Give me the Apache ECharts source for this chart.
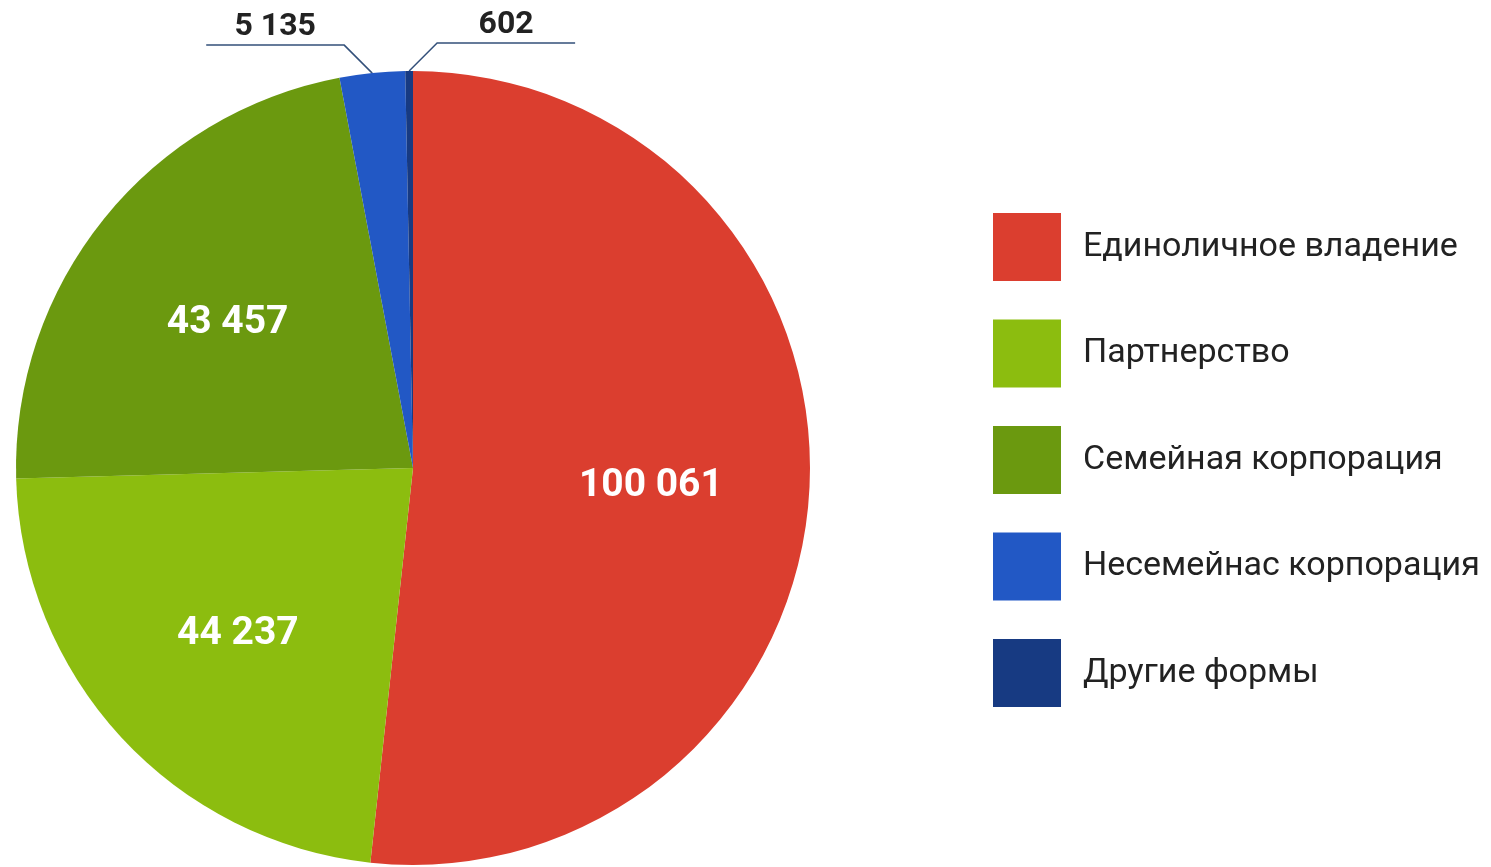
<!DOCTYPE html>
<html>
<head>
<meta charset="utf-8">
<script src="https://cdn.jsdelivr.net/npm/echarts@6/dist/echarts.min.js"></script>
<style>html,body{margin:0;padding:0;background:#fff;}#c{width:1491px;height:867px;}</style>
</head>
<body>
<div id="c"></div>
<script>
const categories = ['Единоличное владение', 'Партнерство', 'Семейная корпорация', 'Несемейнас корпорация', 'Другие формы'];
const values = [100061, 44237, 43457, 5135, 602];
const colors = ['#db3e2f', '#8cbd0f', '#6b990f', '#2258c5', '#173a82'];

const CX = 413, CY = 468, R = 397;
const total = values.reduce((a, b) => a + b, 0);
function fmt(v) { return String(v).replace(/\B(?=(\d{3})+(?!\d))/g, ' '); }
function midAngle(i) {
  let s = 0; for (let k = 0; k < i; k++) s += values[k];
  return (s + values[i] / 2) / total * 2 * Math.PI;
}

const data = categories.map((name, i) => {
  const small = values[i] / total < 0.05;
  return {
    name, value: values[i],
    itemStyle: { color: colors[i] },
    label: small ? {
      position: 'outside', color: '#222', fontSize: 32, fontWeight: 'bold', fontFamily: 'Roboto'
    } : {
      position: 'inside', color: '#fff', fontSize: 39, fontWeight: 'bold', fontFamily: 'Roboto'
    },
    labelLine: { show: small, lineStyle: { color: '#33507a', width: 1.5 } }
  };
});

const chart = echarts.init(document.getElementById('c'), null, { renderer: 'canvas' });
chart.setOption({
  animation: false,
  backgroundColor: '#fff',
  legend: {
    orient: 'vertical', left: 993, top: 213, padding: 0,
    itemWidth: 68, itemHeight: 68, itemGap: 38.5,
    icon: 'rect',
    data: categories,
    textStyle: { fontSize: 34, color: '#222', fontFamily: 'Roboto', padding: [0, 0, 0, 17] }
  },
  series: [{
    type: 'pie',
    center: [CX, CY],
    radius: [0, R],
    startAngle: 90,
    clockwise: true,
    avoidLabelOverlap: false,
    label: { show: true, formatter: p => fmt(p.value) },
    labelLine: { length: 30, length2: 130 },
    labelLayout: function (params) {
      const i = params.dataIndex;
      const a = midAngle(i);
      if (values[i] / total < 0.05) {
        const ex = CX + R * Math.sin(a), ey = CY - R * Math.cos(a);
        const dir = i === 3 ? -1 : 1;
        const bx = ex + dir * 28, by = ey - 28;
        const fx = bx + dir * 138;
        return {
          x: (bx + fx) / 2, y: by - 2, align: 'center', verticalAlign: 'bottom',
          labelLinePoints: [[ex, ey], [bx, by], [fx, by]]
        };
      }
      const rr = R * 0.6;
      return { x: CX + rr * Math.sin(a), y: CY + 5 - rr * Math.cos(a), align: 'center', verticalAlign: 'middle' };
    },
    data
  }]
});
</script>
</body>
</html>
